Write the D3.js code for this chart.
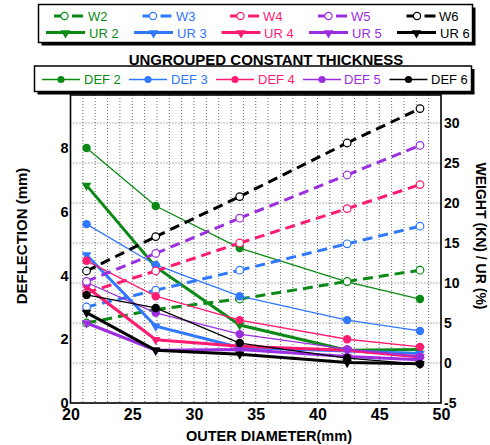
<!DOCTYPE html>
<html>
<head>
<meta charset="utf-8">
<script src="https://cdn.jsdelivr.net/npm/d3@7"></script>
<style>
  html, body { margin: 0; padding: 0; background: #fff; }
  svg { display: block; font-family: "Liberation Sans", Arial, Helvetica, sans-serif; }
</style>
</head>
<body>
<svg id="chart" width="490" height="445"></svg>
<script>
// Outer diameters of the tubes (mm)
const diameters = [21.3, 26.9, 33.7, 42.4, 48.3];

// Deflection (mm), left axis
const def2 = [8.0, 6.18, 4.86, 3.8, 3.26];
const def3 = [5.61, 4.33, 3.35, 2.6, 2.26];
const def4 = [4.46, 3.35, 2.6, 2.0, 1.76];
const def5 = [3.78, 2.83, 2.16, 1.69, 1.45];
const def6 = [3.39, 2.98, 1.88, 1.41, 1.22];

// Weight (kN), right axis
const w2 = [5.0, 6.7, 8.0, 10.2, 11.6];
const w3 = [7.0, 9.1, 11.6, 14.9, 17.1];
const w4 = [8.8, 11.5, 15.0, 19.3, 22.3];
const w5 = [10.2, 13.7, 18.1, 23.5, 27.2];
const w6 = [11.5, 15.8, 20.8, 27.5, 31.8];

// Utilisation ratio (%), right axis
const ur2 = [22.2, 12.0, 4.75, 1.6, 1.7];
const ur3 = [13.5, 4.6, 1.95, 1.5, 1.2];
const ur4 = [9.5, 2.9, 2.1, 1.6, 0.75];
const ur5 = [5.0, 1.6, 1.7, 0.8, 0.4];
const ur6 = [6.3, 1.6, 1.1, 0.05, -0.1];

// Tick labels
const xTicks = [20, 25, 30, 35, 40, 45, 50];
const leftTicks = [0, 2, 4, 6, 8];
const rightTicks = [-5, 0, 5, 10, 15, 20, 25, 30];

const groups = ["2", "3", "4", "5", "6"];
const colors = {"2": "#0a8a14", "3": "#2f78ff", "4": "#ff1a72", "5": "#9b2fe0", "6": "#000000"};
const defData = {"2": def2, "3": def3, "4": def4, "5": def5, "6": def6};
const wData = {"2": w2, "3": w3, "4": w4, "5": w5, "6": w6};
const urData = {"2": ur2, "3": ur3, "4": ur4, "5": ur5, "6": ur6};

const svg = d3.select("#chart");

const plot = {left: 70.5, right: 441, top: 95, bottom: 403};
const x = d3.scaleLinear().domain([20, 50]).range([plot.left, plot.right]);
const yL = d3.scaleLinear().domain([0, 9.66]).range([plot.bottom, plot.top]);
const yR = d3.scaleLinear().domain([-5, 33.5]).range([plot.bottom, plot.top]);

// Dotted grid
const grid = svg.append("g").attr("stroke", "#6a6a6a").attr("stroke-width", 1)
  .attr("stroke-dasharray", "1,2");
grid.selectAll("line.v").data(d3.range(21, 50)).join("line")
  .attr("x1", d => x(d)).attr("x2", d => x(d))
  .attr("y1", plot.top).attr("y2", plot.bottom);
grid.selectAll("line.h").data(rightTicks.filter(t => t > -5)).join("line")
  .attr("y1", d => yR(d)).attr("y2", d => yR(d))
  .attr("x1", plot.left).attr("x2", plot.right);

// Axes (labels only, frame drawn separately)
const xAxis = d3.axisBottom(x).tickValues(xTicks).tickSize(0).tickPadding(6);
const gx = svg.append("g").attr("transform", `translate(0,${plot.bottom})`).call(xAxis);
gx.select(".domain").remove();
gx.selectAll("text").attr("font-size", 16).attr("font-weight", "bold").attr("fill", "#000")
  .attr("font-family", "Liberation Sans, Arial, sans-serif");

const yAxisL = d3.axisLeft(yL).tickValues(leftTicks).tickSize(0).tickPadding(2);
const gl = svg.append("g").attr("transform", `translate(${plot.left},0)`).call(yAxisL);
gl.select(".domain").remove();
gl.selectAll("text").attr("font-size", 14.5).attr("font-weight", "bold").attr("fill", "#000")
  .attr("font-family", "Liberation Sans, Arial, sans-serif");

const yAxisR = d3.axisRight(yR).tickValues(rightTicks).tickSize(0).tickPadding(3);
const gr = svg.append("g").attr("transform", `translate(${plot.right},0)`).call(yAxisR);
gr.select(".domain").remove();
gr.selectAll("text").attr("font-size", 14).attr("font-weight", "bold").attr("fill", "#000")
  .attr("font-family", "Liberation Sans, Arial, sans-serif")
  .text(d => d < 0 ? "-" + Math.abs(d) : d);

// Plot frame
svg.append("rect").attr("x", plot.left).attr("y", plot.top)
  .attr("width", plot.right - plot.left).attr("height", plot.bottom - plot.top)
  .attr("fill", "none").attr("stroke", "#000").attr("stroke-width", 1.6);

// Series
const series = svg.append("g");
const tri = d3.symbol().type(d3.symbolTriangle).size(40);

groups.forEach(g => {
  const c = colors[g];

  // Deflection: thin line, filled circles
  const dpts = diameters.map((d, i) => [x(d), yL(defData[g][i])]);
  series.append("path").attr("d", d3.line()(dpts))
    .attr("fill", "none").attr("stroke", c).attr("stroke-width", 1.3);
  series.selectAll(null).data(dpts).join("circle")
    .attr("cx", p => p[0]).attr("cy", p => p[1]).attr("r", 4.2).attr("fill", c);

  // Weight: thick dashed segments, open circles
  const wpts = diameters.map((d, i) => [x(d), yR(wData[g][i])]);
  for (let i = 0; i < wpts.length - 1; i++) {
    series.append("line")
      .attr("x1", wpts[i][0]).attr("y1", wpts[i][1])
      .attr("x2", wpts[i + 1][0]).attr("y2", wpts[i + 1][1])
      .attr("stroke", c).attr("stroke-width", 3).attr("stroke-dasharray", "10,6");
  }
  series.selectAll(null).data(wpts).join("circle")
    .attr("cx", p => p[0]).attr("cy", p => p[1]).attr("r", 3.8)
    .attr("fill", "#fff").attr("stroke", c).attr("stroke-width", 1.2);

  // Utilisation ratio: thick line, down triangles
  const upts = diameters.map((d, i) => [x(d), yR(urData[g][i])]);
  series.append("path").attr("d", d3.line()(upts))
    .attr("fill", "none").attr("stroke", c).attr("stroke-width", 3);
  series.selectAll(null).data(upts).join("path")
    .attr("d", tri).attr("fill", c)
    .attr("transform", p => `translate(${p[0]},${p[1]}) rotate(180)`);
});

// Axis titles
svg.append("text").attr("x", 269).attr("y", 441).attr("text-anchor", "middle")
  .attr("font-size", 14.5).attr("font-weight", "bold").text("OUTER DIAMETER(mm)");
svg.append("text").attr("transform", "translate(27,236) rotate(-90)").attr("text-anchor", "middle")
  .attr("font-size", 15).attr("font-weight", "bold").text("DEFLECTION (mm)");
svg.append("text").attr("transform", "translate(476,236) rotate(90)").attr("text-anchor", "middle")
  .attr("font-size", 14).attr("font-weight", "bold").text("WEIGHT (KN) / UR (%)");

// Title
svg.append("text").attr("x", 266).attr("y", 64.5).attr("text-anchor", "middle")
  .attr("font-size", 15).attr("font-weight", "bold").text("UNGROUPED CONSTANT THICKNESS");

// Legend box helper with drop shadow
function box(x0, y0, w, h) {
  svg.append("rect").attr("x", x0 + 3).attr("y", y0 + 3).attr("width", w).attr("height", h).attr("fill", "#000");
  svg.append("rect").attr("x", x0).attr("y", y0).attr("width", w).attr("height", h)
    .attr("fill", "#fff").attr("stroke", "#000").attr("stroke-width", 1.5);
}

// Weight / UR legend
box(38.5, 4.5, 434, 38);
const wLineX = [54, 142.5, 230, 318, 406.5];
const urLineX = [46, 134, 221.5, 309, 397];
const lgTextX = [88, 176, 263, 351, 439];
groups.forEach((g, k) => {
  const c = colors[g];
  const lx = wLineX[k];
  svg.append("line").attr("x1", lx).attr("x2", lx + 29).attr("y1", 16).attr("y2", 16)
    .attr("stroke", c).attr("stroke-width", 3).attr("stroke-dasharray", "14,4,11");
  svg.append("circle").attr("cx", lx + 10.5).attr("cy", 16).attr("r", 3.6)
    .attr("fill", "#fff").attr("stroke", c).attr("stroke-width", 1.2);
  svg.append("text").attr("x", lgTextX[k]).attr("y", 20.5).attr("font-size", 13)
    .attr("fill", c).text("W" + g);

  const ux = urLineX[k];
  svg.append("line").attr("x1", ux).attr("x2", ux + 39).attr("y1", 32.5).attr("y2", 32.5)
    .attr("stroke", c).attr("stroke-width", 3);
  svg.append("path").attr("d", tri).attr("fill", c)
    .attr("transform", `translate(${ux + 19.5},33) rotate(180)`);
  svg.append("text").attr("x", lgTextX[k] + 1).attr("y", 37.5).attr("font-size", 13)
    .attr("fill", c).text("UR " + g);
});

// Deflection legend
box(34.5, 66, 437, 25.5);
const dLineX = [42, 129, 216, 303, 389.5];
const dTextX = [84, 171, 258, 344, 431];
groups.forEach((g, k) => {
  const c = colors[g];
  svg.append("line").attr("x1", dLineX[k]).attr("x2", dLineX[k] + 38).attr("y1", 79.5).attr("y2", 79.5)
    .attr("stroke", c).attr("stroke-width", 1.5);
  svg.append("circle").attr("cx", dLineX[k] + 19).attr("cy", 79.5).attr("r", 3.6).attr("fill", c);
  svg.append("text").attr("x", dTextX[k]).attr("y", 84).attr("font-size", 13)
    .attr("fill", c).text("DEF " + g);
});
</script>
</body>
</html>
